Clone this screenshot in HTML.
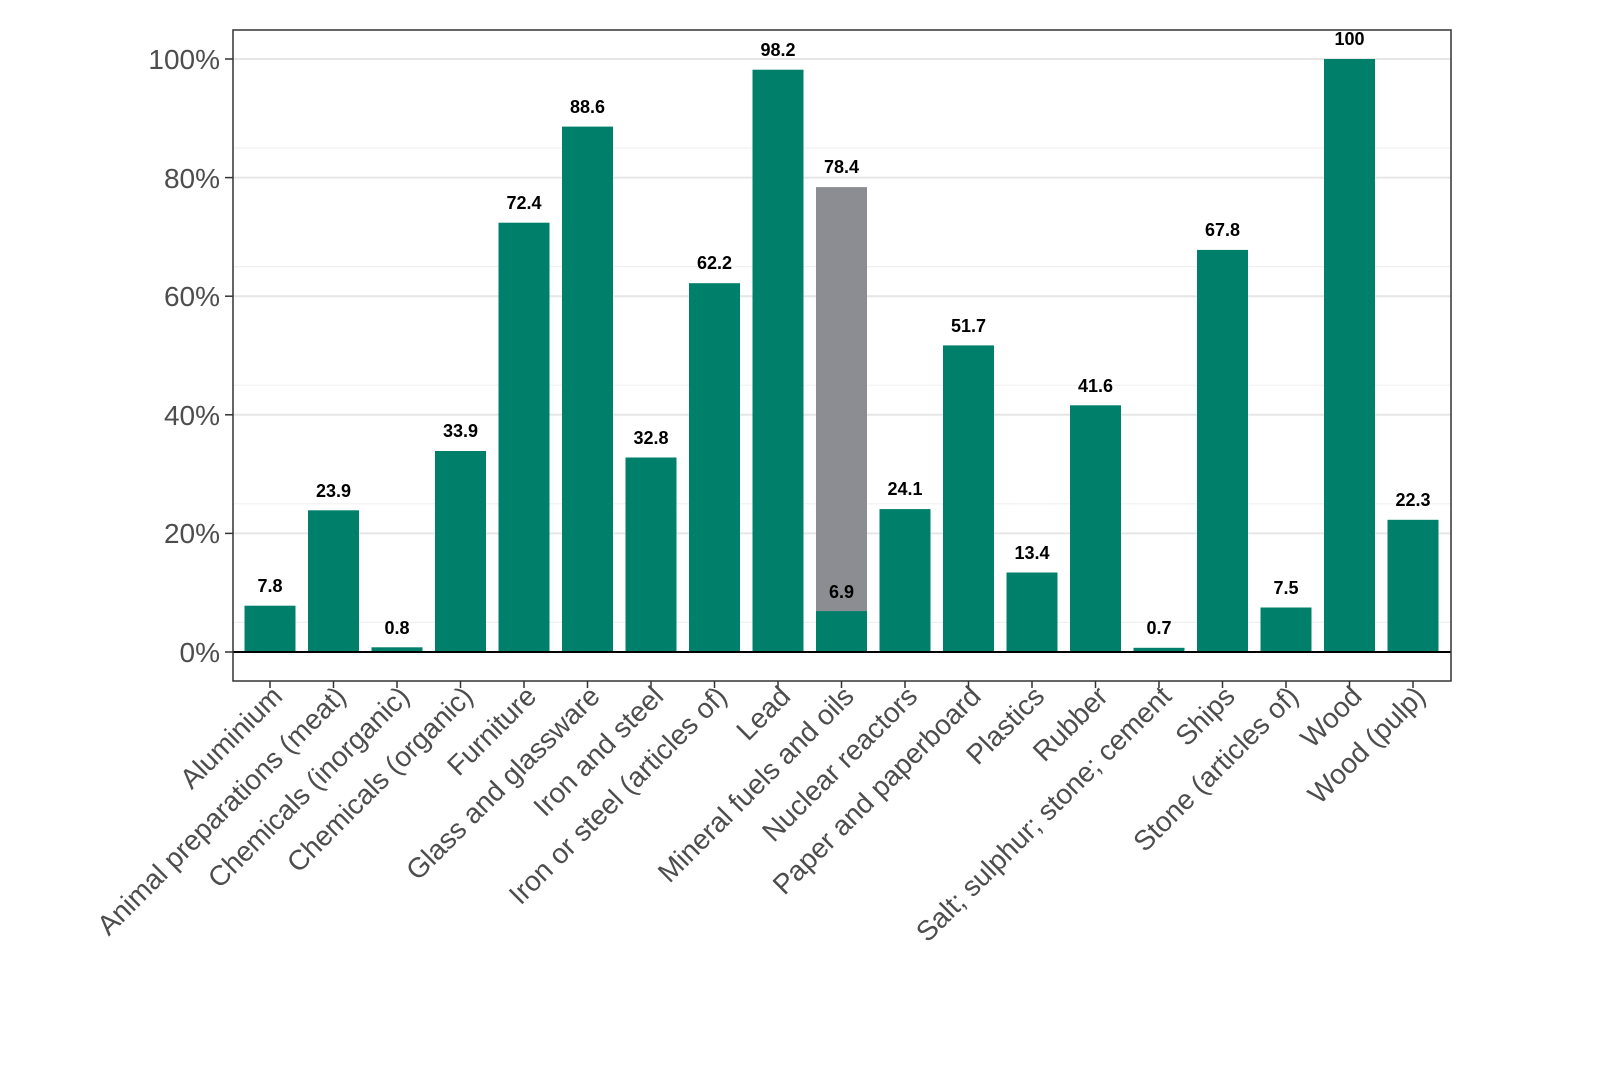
<!DOCTYPE html>
<html><head><meta charset="utf-8"><style>
html,body{margin:0;padding:0;background:#fff;}
svg{display:block;font-family:"Liberation Sans",sans-serif;}
</style></head><body>
<svg width="1600" height="1066" viewBox="0 0 1600 1066" xmlns="http://www.w3.org/2000/svg">
<rect width="1600" height="1066" fill="#fff"/>
<g stroke="#f0f0f0" stroke-width="1.2">
<line x1="233" x2="1451" y1="622.4" y2="622.4"/><line x1="233" x2="1451" y1="503.8" y2="503.8"/>
<line x1="233" x2="1451" y1="385.2" y2="385.2"/><line x1="233" x2="1451" y1="266.6" y2="266.6"/>
<line x1="233" x2="1451" y1="148" y2="148"/>
</g>
<g stroke="#e6e6e6" stroke-width="2">
<line x1="233" x2="1451" y1="533.4" y2="533.4"/><line x1="233" x2="1451" y1="414.8" y2="414.8"/>
<line x1="233" x2="1451" y1="296.2" y2="296.2"/><line x1="233" x2="1451" y1="177.6" y2="177.6"/>
<line x1="233" x2="1451" y1="59" y2="59"/>
</g>
<g fill="#00806a">
<rect x="244.5" y="605.7" width="51" height="46.3"/>
<rect x="308" y="510.3" width="51" height="141.7"/>
<rect x="371.5" y="647.3" width="51" height="4.7"/>
<rect x="435" y="451" width="51" height="201"/>
<rect x="498.5" y="222.7" width="51" height="429.3"/>
<rect x="562" y="126.6" width="51" height="525.4"/>
<rect x="625.5" y="457.5" width="51" height="194.5"/>
<rect x="689" y="283.2" width="51" height="368.8"/>
<rect x="752.5" y="69.7" width="51" height="582.3"/>
<rect x="816" y="187.1" width="51" height="464.9" fill="#8c8d92"/>
<rect x="816" y="611.1" width="51" height="40.9"/>
<rect x="879.5" y="509.1" width="51" height="142.9"/>
<rect x="943" y="345.4" width="51" height="306.6"/>
<rect x="1006.5" y="572.5" width="51" height="79.5"/>
<rect x="1070" y="405.3" width="51" height="246.7"/>
<rect x="1133.5" y="647.8" width="51" height="4.2"/>
<rect x="1197" y="249.9" width="51" height="402.1"/>
<rect x="1260.5" y="607.5" width="51" height="44.5"/>
<rect x="1324" y="59" width="51" height="593"/>
<rect x="1387.5" y="519.8" width="51" height="132.2"/>
</g>
<g font-size="18" font-weight="bold" fill="#000" text-anchor="middle">
<text x="270" y="592">7.8</text>
<text x="333.5" y="497">23.9</text>
<text x="397" y="634">0.8</text>
<text x="460.5" y="437">33.9</text>
<text x="524" y="209">72.4</text>
<text x="587.5" y="113">88.6</text>
<text x="651" y="444">32.8</text>
<text x="714.5" y="269">62.2</text>
<text x="778" y="56">98.2</text>
<text x="841.5" y="173">78.4</text>
<text x="841.5" y="598">6.9</text>
<text x="905" y="495">24.1</text>
<text x="968.5" y="332">51.7</text>
<text x="1032" y="559">13.4</text>
<text x="1095.5" y="392">41.6</text>
<text x="1159" y="634">0.7</text>
<text x="1222.5" y="236">67.8</text>
<text x="1286" y="594">7.5</text>
<text x="1349.5" y="45">100</text>
<text x="1413" y="506">22.3</text>
</g>
<line x1="233" x2="1451" y1="652" y2="652" stroke="#000" stroke-width="2"/>
<rect x="233" y="30" width="1218" height="651" fill="none" stroke="#333" stroke-width="1.5"/>
<g fill="#4d4d4d" font-size="28" text-anchor="end">
<text x="220" y="662">0%</text><text x="220" y="543">20%</text><text x="220" y="425">40%</text>
<text x="220" y="306">60%</text><text x="220" y="188">80%</text><text x="220" y="69">100%</text>
</g>
<g stroke="#333" stroke-width="1.5">
<line x1="225" x2="233" y1="652" y2="652"/><line x1="225" x2="233" y1="533.4" y2="533.4"/>
<line x1="225" x2="233" y1="414.8" y2="414.8"/><line x1="225" x2="233" y1="296.2" y2="296.2"/>
<line x1="225" x2="233" y1="177.6" y2="177.6"/><line x1="225" x2="233" y1="59" y2="59"/>
<line x1="270" x2="270" y1="681" y2="688"/><line x1="333.5" x2="333.5" y1="681" y2="688"/>
<line x1="397" x2="397" y1="681" y2="688"/><line x1="460.5" x2="460.5" y1="681" y2="688"/>
<line x1="524" x2="524" y1="681" y2="688"/><line x1="587.5" x2="587.5" y1="681" y2="688"/>
<line x1="651" x2="651" y1="681" y2="688"/><line x1="714.5" x2="714.5" y1="681" y2="688"/>
<line x1="778" x2="778" y1="681" y2="688"/><line x1="841.5" x2="841.5" y1="681" y2="688"/>
<line x1="905" x2="905" y1="681" y2="688"/><line x1="968.5" x2="968.5" y1="681" y2="688"/>
<line x1="1032" x2="1032" y1="681" y2="688"/><line x1="1095.5" x2="1095.5" y1="681" y2="688"/>
<line x1="1159" x2="1159" y1="681" y2="688"/><line x1="1222.5" x2="1222.5" y1="681" y2="688"/>
<line x1="1286" x2="1286" y1="681" y2="688"/><line x1="1349.5" x2="1349.5" y1="681" y2="688"/>
<line x1="1413" x2="1413" y1="681" y2="688"/>
</g>
<g font-size="28" fill="#4d4d4d" text-anchor="end">
<text transform="translate(284,698) rotate(-45)">Aluminium</text>
<text transform="translate(347.5,698) rotate(-45)">Animal preparations (meat)</text>
<text transform="translate(411,698) rotate(-45)">Chemicals (inorganic)</text>
<text transform="translate(474.5,698) rotate(-45)">Chemicals (organic)</text>
<text transform="translate(538,698) rotate(-45)">Furniture</text>
<text transform="translate(601.5,698) rotate(-45)">Glass and glassware</text>
<text transform="translate(665,698) rotate(-45)">Iron and steel</text>
<text transform="translate(728.5,698) rotate(-45)">Iron or steel (articles of)</text>
<text transform="translate(792,698) rotate(-45)">Lead</text>
<text transform="translate(855.5,698) rotate(-45)">Mineral fuels and oils</text>
<text transform="translate(919,698) rotate(-45)">Nuclear reactors</text>
<text transform="translate(982.5,698) rotate(-45)">Paper and paperboard</text>
<text transform="translate(1046,698) rotate(-45)">Plastics</text>
<text transform="translate(1109.5,698) rotate(-45)">Rubber</text>
<text transform="translate(1173,698) rotate(-45)">Salt; sulphur; stone; cement</text>
<text transform="translate(1236.5,698) rotate(-45)">Ships</text>
<text transform="translate(1300,698) rotate(-45)">Stone (articles of)</text>
<text transform="translate(1363.5,698) rotate(-45)">Wood</text>
<text transform="translate(1427,698) rotate(-45)">Wood (pulp)</text>
</g>
</svg>
</body></html>
